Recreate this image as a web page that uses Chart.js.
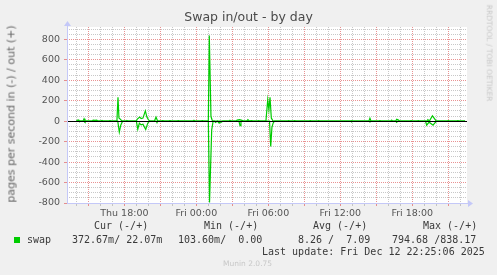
<!DOCTYPE html>
<html>
<head>
<meta charset="utf-8">
<script src="https://cdn.jsdelivr.net/npm/chart.js@4/dist/chart.umd.min.js"></script>
<style>
  html, body { margin: 0; padding: 0; background: #f0f0f0; }
  #wrap { position: relative; width: 497px; height: 275px; overflow: hidden; font-family: 'DejaVu Sans', sans-serif; }
  #wrap canvas { position: absolute; left: 0; top: 0; }
  .t { position: absolute; white-space: pre; line-height: 1; }
  .mono { font-family: 'DejaVu Sans Mono', monospace; font-size: 10px; color: #3a3a3a; }
</style>
</head>
<body>
<div id="wrap">
  <canvas id="chart" width="497" height="275"></canvas>
  <div class="t" style="left:0;width:497px;top:11px;text-align:center;font-size:12.5px;color:#4a4a4a;">Swap in/out - by day</div>
  <div class="t" style="left:11px;top:114px;font-size:11px;color:#666;transform:translate(-50%,-50%) rotate(-90deg);">pages per second in (-) / out (+)</div>
  <div class="t" style="left:489px;top:53px;font-size:7.5px;color:#c8c8c8;transform:translate(-50%,-50%) rotate(90deg);">RRDTOOL / TOBI OETIKER</div>

  <div class="t mono" style="left:94px;top:221px;">Cur (-/+)</div>
  <div class="t mono" style="left:204px;top:221px;">Min (-/+)</div>
  <div class="t mono" style="left:313px;top:221px;">Avg (-/+)</div>
  <div class="t mono" style="left:423px;top:221px;">Max (-/+)</div>

  <div style="position:absolute;left:14px;top:237px;width:6px;height:6px;background:#00cc00;"></div>
  <div class="t mono" style="left:27px;top:235px;">swap</div>
  <div class="t mono" style="left:72px;top:235px;">372.67m/ 22.07m</div>
  <div class="t mono" style="left:178px;top:235px;">103.60m/  0.00</div>
  <div class="t mono" style="left:298px;top:235px;">8.26 /  7.09</div>
  <div class="t mono" style="left:392px;top:235px;">794.68 /838.17</div>
  <div class="t mono" style="left:262px;top:246.5px;">Last update: Fri Dec 12 22:25:06 2025</div>
  <div class="t" style="left:223px;top:260px;font-size:7.5px;color:#c8c8c8;">Munin 2.0.75</div>
</div>
<script>
// hours relative to Fri 00:00, one sample every ~5 min around each blip
const outHours = [
  -10.0, -9.95, -9.86, -9.78,
  -9.45, -9.36, -9.28,
  -8.7, -8.6, -8.45, -8.3, -8.2,
  -7.95, -7.86, -7.78,
  -7.28, -7.2, -7.12,
  -6.62, -6.53, -6.45, -6.3, -6.2,
  -5.86, -5.78, -5.7,
  -5.0, -4.92, -4.72, -4.6, -4.45, -4.25, -4.12, -4.0, -3.88,
  -3.5, -3.36, -3.22,
  -2.9, -2.8, -2.7,
  -2.3, -2.2, -2.1,
  -1.6, -1.5, -1.4,
  -0.3, -0.2, -0.1,
  0.42, 0.5, 0.58,
  1.0, 1.08, 1.22, 1.35,
  2.72, 2.8, 2.88,
  3.3, 3.4, 3.6, 3.8, 3.92,
  4.2, 4.3, 4.42, 4.6, 4.7,
  5.12, 5.2, 5.28,
  5.8, 5.95, 6.05, 6.14, 6.25, 6.4,
  7.62, 7.7, 7.78,
  8.12, 8.2, 8.28,
  9.42, 9.5, 9.58,
  10.12, 10.2, 10.28,
  12.88, 12.95, 13.03,
  14.38, 14.47, 14.56,
  15.22, 15.3, 15.38,
  16.2, 16.28, 16.36,
  16.62, 16.7, 16.85, 16.95,
  17.82, 17.9, 17.98,
  18.42, 18.5, 18.58,
  19.2, 19.3, 19.42, 19.68, 19.88, 20.0,
  20.92, 21.0, 21.08,
  21.72, 21.8, 21.88,
  22.4
];
const outVals = [
  0, 0, 13, 0,
  0, 23, 0,
  0, 10, 8, 10, 0,
  0, 6, 0,
  0, 5, 0,
  0, 234, 30, 15, 0,
  0, 5, 0,
  0, 20, 39, 25, 30, 100, 40, 15, 0,
  0, 39, 0,
  0, 5, 0,
  0, 4, 0,
  0, 5, 0,
  0, 8, 0,
  0, 5, 0,
  0, 838, 45, 0,
  0, 8, 0,
  0, 10, 15, 8, 0,
  0, 15, 0, 5, 0,
  0, 5, 0,
  0, 208, 110, 234, 30, 0,
  0, 5, 0,
  0, 5, 0,
  0, 5, 0,
  0, 5, 0,
  0, 5, 0,
  0, 29, 0,
  0, 5, 0,
  0, 10, 0,
  0, 18, 10, 0,
  0, 4, 0,
  0, 4, 0,
  0, 15, 0, 52, 20, 0,
  0, 5, 0,
  0, 5, 0,
  0
];
const inHours = [
  -10.0,
  -9.38, -9.3, -9.22,
  -6.55, -6.42, -6.3, -6.15,
  -5.0, -4.88, -4.75, -4.6, -4.45, -4.22, -4.05, -3.9,
  -3.36, -3.28, -3.2,
  1.0, 1.1, 1.28, 1.4,
  1.5, 1.6, 1.75, 1.9, 2.0, 2.1, 2.2,
  3.55, 3.64, 3.72,
  6.1, 6.2, 6.3, 6.4, 6.5,
  12.88, 12.95, 13.03,
  14.4, 14.47, 14.55,
  16.62, 16.7, 16.78,
  19.1, 19.2, 19.4, 19.73, 19.9, 20.05,
  22.4
];
const inVals = [
  0,
  0, -10, 0,
  0, -107, -40, 0,
  0, -78, -20, -36, -30, -82, -20, 0,
  0, -10, 0,
  0, -794, -86, 0,
  0, -13, 0, -20, -8, -10, 0,
  0, -43, 0,
  0, -248, -60, -20, 0,
  0, -8, 0,
  0, -5, 0,
  0, -12, 0,
  0, -40, -10, -39, -15, 0,
  0
];

const hourTicks = [];
for (let h = -10; h <= 22; h++) hourTicks.push(h);
const labelHours = [-6, 0, 6, 12, 18];
const timeLabels = ['Thu 18:00', 'Fri 00:00', 'Fri 06:00', 'Fri 12:00', 'Fri 18:00'];
const valueTicks = [];
for (let v = -800; v <= 900; v += 50) valueTicks.push(v);

const xMin = -10.78, xMax = 22.56;
const yMin = -800, yMax = 920;

const lineColor = '#00cc00';
const majorGrid = 'rgba(225,110,110,0.75)';
const minorGrid = 'rgba(170,170,170,0.65)';
const axisColor = '#c4c8f8';

const mergeXY = (xs, ys) => xs.map((x, i) => ({ x, y: ys[i] }));

const munin = {
    id: 'munin',
    beforeDraw(chart) {
        const { ctx, chartArea: a } = chart;
        ctx.save();
        ctx.fillStyle = '#fff';
        ctx.fillRect(a.left, a.top, a.right - a.left, a.bottom - a.top);
        ctx.restore();
    },
    afterDatasetsDraw(chart) {
        const { ctx, chartArea: a, scales } = chart;
        const y0 = Math.round(scales.y.getPixelForValue(0)) + 0.5;
        ctx.save();
        ctx.strokeStyle = '#000';
        ctx.lineWidth = 1;
        ctx.beginPath();
        ctx.moveTo(a.left, y0);
        ctx.lineTo(a.right, y0);
        ctx.stroke();
        // axis lines + arrows
        ctx.fillStyle = axisColor;
        ctx.strokeStyle = axisColor;
        ctx.beginPath();
        ctx.moveTo(a.left + 0.5, a.bottom);
        ctx.lineTo(a.left + 0.5, a.top - 2);
        ctx.moveTo(a.left, a.bottom + 0.5);
        ctx.lineTo(a.right + 2, a.bottom + 0.5);
        ctx.stroke();
        ctx.beginPath();
        ctx.moveTo(a.left - 3, a.top - 1);
        ctx.lineTo(a.left + 4, a.top - 1);
        ctx.lineTo(a.left + 0.5, a.top - 6);
        ctx.closePath();
        ctx.fill();
        ctx.beginPath();
        ctx.moveTo(a.right + 1, a.bottom - 3);
        ctx.lineTo(a.right + 1, a.bottom + 4);
        ctx.lineTo(a.right + 6, a.bottom + 0.5);
        ctx.closePath();
        ctx.fill();
        ctx.restore();
    },
};

new Chart(document.getElementById('chart'), {
    type: 'line',
    data: {
        datasets: [
            { label: 'out', data: mergeXY(outHours, outVals) },
            { label: 'in', data: mergeXY(inHours, inVals) },
        ].map(ds => ({
            borderColor: lineColor,
            borderWidth: 1.2,
            pointRadius: 0,
            tension: 0,
            fill: false,
            ...ds,
        })),
    },
    options: {
        responsive: false,
        animation: false,
        layout: { padding: { left: 0, top: 27, right: 30, bottom: 0 } },
        plugins: { legend: { display: false }, tooltip: { enabled: false } },
        scales: {
            x: {
                type: 'linear',
                min: xMin,
                max: xMax,
                afterBuildTicks: s => { s.ticks = hourTicks.map(v => ({ value: v })); },
                afterFit: s => { s.height = 72; },
                ticks: {
                    autoSkip: false,
                    maxRotation: 0,
                    padding: 2,
                    color: '#555',
                    font: { family: 'DejaVu Sans', size: 9.5 },
                    callback: v => {
                        const i = labelHours.indexOf(v);
                        return i >= 0 ? timeLabels[i] : '';
                    },
                },
                grid: {
                    color: c => (c.tick && c.tick.value % 3 === 0 ? majorGrid : minorGrid),
                    tickColor: c => (c.tick && c.tick.value % 3 === 0 ? majorGrid : minorGrid),
                    tickLength: 3,
                    lineWidth: 1,
                },
                border: { display: false, dash: [1, 1] },
            },
            y: {
                min: yMin,
                max: yMax,
                afterBuildTicks: s => { s.ticks = valueTicks.map(v => ({ value: v })); },
                afterFit: s => { s.width = 67; },
                ticks: {
                    autoSkip: false,
                    padding: 4,
                    color: '#555',
                    font: { family: 'DejaVu Sans', size: 9.5 },
                    callback: v => (v % 200 === 0 && v <= 800 ? String(v) : ''),
                },
                grid: {
                    color: c => (c.tick && c.tick.value % 200 === 0 ? majorGrid : minorGrid),
                    tickColor: c => (c.tick && c.tick.value % 200 === 0 ? majorGrid : 'rgba(0,0,0,0)'),
                    tickLength: 3,
                    lineWidth: 1,
                },
                border: { display: false, dash: [1, 1] },
            },
        },
    },
    plugins: [munin],
});
</script>
</body>
</html>
